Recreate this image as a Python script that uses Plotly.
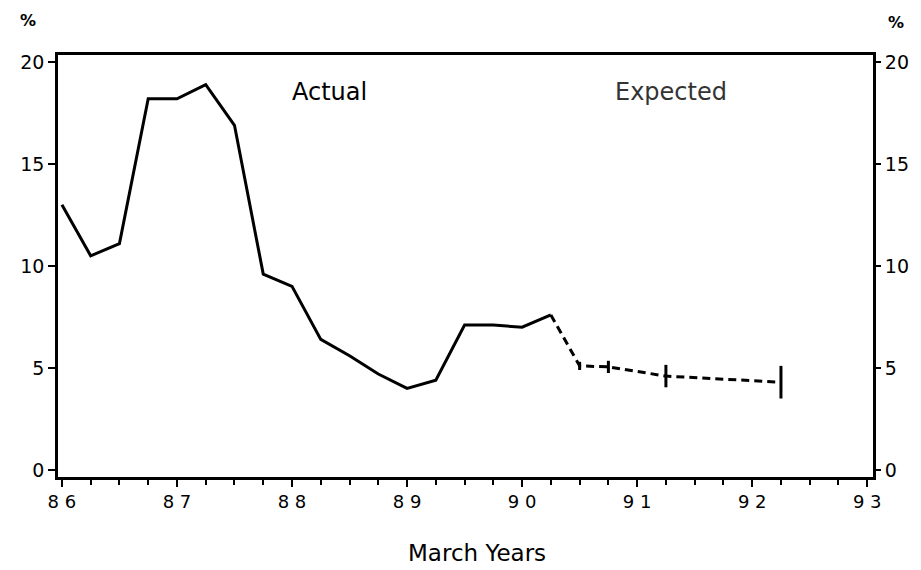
import plotly.graph_objects as go

# Data
actual_x = [86.0, 86.25, 86.5, 86.75, 87.0, 87.25, 87.5, 87.75, 88.0, 88.25, 88.5, 88.75,
            89.0, 89.25, 89.5, 89.75, 90.0, 90.25]
actual_y = [13.0, 10.5, 11.1, 18.2, 18.2, 18.9, 16.9, 9.6, 9.0, 6.4, 5.6, 4.7,
            4.0, 4.4, 7.1, 7.1, 7.0, 7.6]
expected_x = [90.25, 90.5, 90.75, 91.25, 92.25]
expected_y = [7.6, 5.1, 5.05, 4.6, 4.3]
expected_err = [0.0, 0.2, 0.3, 0.55, 0.8]
x_tickvals = [86, 87, 88, 89, 90, 91, 92, 93]
x_ticktext = ["8 6", "8 7", "8 8", "8 9", "9 0", "9 1", "9 2", "9 3"]
y_tickvals = [0, 5, 10, 15, 20]

FONT = "DejaVu Sans"

# page body has an 8px default margin; figure is sized to fit the 921x570 window
W, H = 913, 562
L, T, R, B = 42, 47, 47, 93

fig = go.Figure()
fig.add_trace(go.Scatter(x=actual_x, y=actual_y, mode="lines",
                         line=dict(color="black", width=3), showlegend=False))
fig.add_trace(go.Scatter(x=expected_x, y=expected_y, mode="lines",
                         line=dict(color="black", width=3, dash="8px,5px"),
                         error_y=dict(type="data", array=expected_err, visible=True,
                                      color="black", thickness=3, width=0),
                         showlegend=False))
# invisible trace to activate right axis
fig.add_trace(go.Scatter(x=[86], y=[0], yaxis="y2", mode="markers",
                         marker=dict(opacity=0), showlegend=False, hoverinfo="skip"))

fig.update_layout(
    width=W, height=H,
    margin=dict(l=L, r=R, t=T, b=B),
    paper_bgcolor="white", plot_bgcolor="white",
    font=dict(family=FONT, color="black"),
    xaxis=dict(range=[85.966, 93.05], tickvals=x_tickvals, ticktext=x_ticktext,
               ticks="outside", ticklen=7, tickwidth=2, tickcolor="black",
               minor=dict(dtick=0.25, tick0=86, ticks="outside", ticklen=5,
                          tickwidth=2, tickcolor="black"),
               showline=True, linewidth=2.5, linecolor="black", mirror=True,
               showgrid=False, zeroline=False,
               tickfont=dict(size=18, family=FONT)),
    yaxis=dict(range=[-0.35, 20.35], tickvals=y_tickvals,
               ticks="outside", ticklen=7, tickwidth=2, tickcolor="black",
               showline=True, linewidth=2.5, linecolor="black", mirror=True,
               showgrid=False, zeroline=False,
               tickfont=dict(size=19, family=FONT)),
    yaxis2=dict(range=[-0.35, 20.35], tickvals=y_tickvals, overlaying="y", side="right",
                ticks="outside", ticklen=7, tickwidth=2, tickcolor="black",
                showline=False, showgrid=False, zeroline=False,
                tickfont=dict(size=19, family=FONT)),
)

pw = W - L - R
ph = H - T - B


def px(xp):
    return (xp - 8 - L) / pw


def py(yp):
    return (H + 8 - B - yp) / ph


annos = [
    dict(text="Actual", x=px(325), y=py(92), font=dict(size=24, color="black")),
    dict(text="Expected", x=px(670), y=py(92), font=dict(size=24, color="#333333")),
    dict(text="March Years", x=px(474), y=py(553), font=dict(size=23, color="black")),
    dict(text="<b>%</b>", x=px(20), y=py(20), font=dict(size=16, color="black")),
    dict(text="<b>%</b>", x=px(897), y=py(22), font=dict(size=16, color="black")),
]
for a in annos:
    fig.add_annotation(xref="paper", yref="paper", showarrow=False,
                       xanchor="center", yanchor="middle", **a)

fig.write_html("out.html")
